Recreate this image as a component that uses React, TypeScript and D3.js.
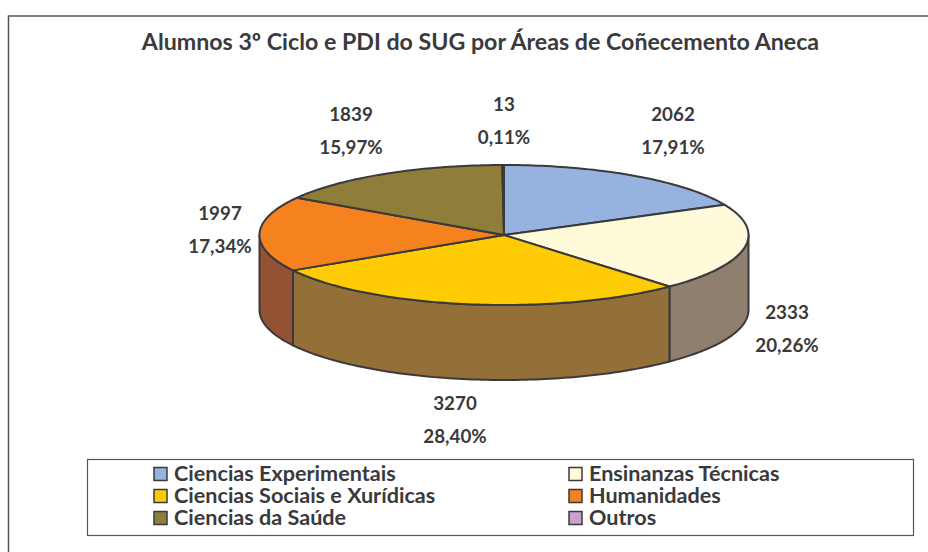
import React from "react";
import * as d3 from "d3";

const titleText = "Alumnos 3º Ciclo e PDI do SUG por Áreas de Coñecemento Aneca";
const categories = ["Ciencias Experimentais", "Ensinanzas Técnicas", "Ciencias Sociais e Xurídicas", "Humanidades", "Ciencias da Saúde", "Outros"];
const values = [2062, 2333, 3270, 1997, 1839, 13];
const percents = ["17,91%", "20,26%", "28,40%", "17,34%", "15,97%", "0,11%"];
const topColors = ["#95B3DE", "#FFFAD9", "#FFCB05", "#F6821F", "#8F7D3A", "#C8A2CC"];
const sideColors = ["#6F85A4", "#8E7F6E", "#937037", "#945234", "#6A5C2B", "#947896"];
const labelPos: [number, number][] = [[673, 114], [787, 312], [455, 403], [220, 213], [351, 114], [504, 104]];
const legendCells: [number, number][] = [[154, 474], [569, 474], [154, 496], [569, 496], [154, 518], [569, 518]];

const W = 928, H = 552;
const cx = 504, cy = 235, rx = 244.5, ry = 70, depth = 75;
const xS = d3.scaleLinear().domain([-1, 1]).range([cx - rx, cx + rx]);
const yS = d3.scaleLinear().domain([-1, 1]).range([cy - ry, cy + ry]);

const FONT = "'Lato','Noto Sans',sans-serif";
const INK = "#3A3A3C";

const arcs = d3.pie<number>().sort(null)(values);
const line = d3.line<[number, number]>();

function rimPts(a0: number, a1: number, dy = 0): [number, number][] {
  const n = Math.max(2, Math.ceil((a1 - a0) / 0.02));
  return d3.range(n + 1).map((i) => {
    const a = a0 + ((a1 - a0) * i) / n;
    return [xS(Math.sin(a)), yS(-Math.cos(a)) + dy] as [number, number];
  });
}

export default function App() {
  const walls = arcs
    .map((d, i) => {
      const a0 = Math.max(d.startAngle, Math.PI / 2);
      const a1 = Math.min(d.endAngle, (3 * Math.PI) / 2);
      if (a1 <= a0) return null;
      const top = rimPts(a0, a1);
      const bottom = rimPts(a0, a1, depth).reverse();
      return <path key={i} d={line([...top, ...bottom])! + "Z"} fill={sideColors[i]} stroke={INK} strokeWidth={2} strokeLinejoin="round" />;
    });
  return (
    <svg width={W} height={H} viewBox={`0 0 ${W} ${H}`} style={{ position: "absolute", left: 0, top: 0, display: "block" }}>
      <rect width={W} height={H} fill="#fff" />
      <rect x={8.5} y={16} width={W + 20} height={H + 20} fill="#fff" stroke="#555" strokeWidth={1.5} />
      <text x={480.5} y={50} textAnchor="middle" fontFamily={FONT} fontWeight={700} fontSize={23.2} fill={INK}>{titleText}</text>
      {walls}
      {arcs.map((d, i) => (
        <path key={i} d={line([[cx, cy], ...rimPts(d.startAngle, d.endAngle)])! + "Z"} fill={topColors[i]} stroke={INK} strokeWidth={2} strokeLinejoin="round" />
      ))}
      {arcs.map((d, i) => (
        <text key={i} textAnchor="middle" fontFamily={FONT} fontWeight={700} fontSize={18.8} fill={INK}>
          <tspan x={labelPos[i][0]} y={labelPos[i][1] + 7}>{values[i]}</tspan>
          <tspan x={labelPos[i][0]} y={labelPos[i][1] + 40}>{percents[i]}</tspan>
        </text>
      ))}
      <rect x={87.5} y={459.5} width={826} height={76} fill="#fff" stroke="#555" strokeWidth={1.2} />
      {categories.map((c, i) => (
        <g key={c}>
          <rect x={legendCells[i][0]} y={legendCells[i][1] - 6.5} width={13} height={13} fill={topColors[i]} stroke={INK} strokeWidth={1.5} />
          <text x={legendCells[i][0] + 20} y={legendCells[i][1] + 7} fontFamily={FONT} fontWeight={700} fontSize={21.6} fill={INK}>{c}</text>
        </g>
      ))}
    </svg>
  );
}
